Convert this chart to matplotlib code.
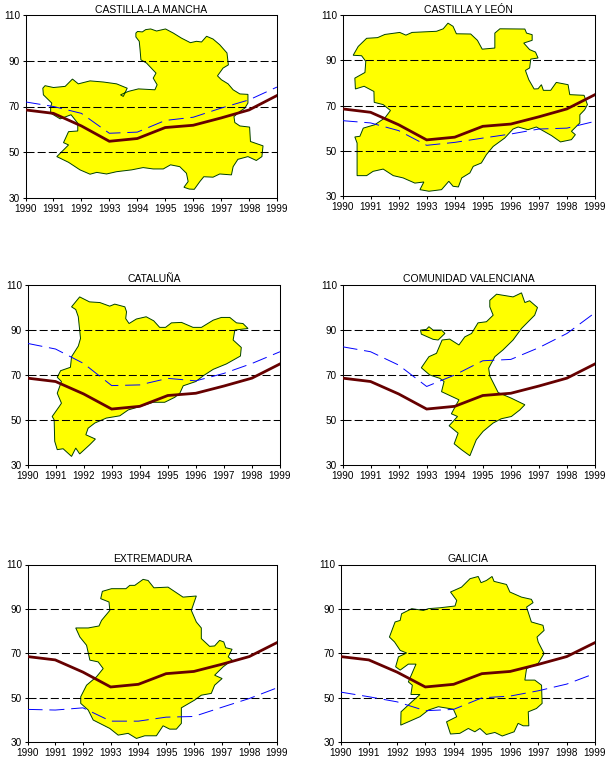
import matplotlib
matplotlib.use("Agg")
import matplotlib.pyplot as plt

plt.rcParams["font.family"] = ["Liberation Sans", "DejaVu Sans"]

years = [1990, 1991, 1992, 1993, 1994, 1995, 1996, 1997, 1998, 1999]
spain = [68.5, 67, 61.5, 54.8, 56, 60.8, 61.8, 65, 68.5, 74.8]

titles = ["CASTILLA-LA MANCHA", "CASTILLA Y LEÓN", "CATALUÑA",
          "COMUNIDAD VALENCIANA", "EXTREMADURA", "GALICIA"]

mancha = [72, 70, 67, 58.3, 58.8, 63.9, 65.3, 69.3, 72.9, 78.5]
leon = [63.3, 62.3, 58.9, 52.4, 53.7, 55.6, 57.4, 59.6, 60, 63]
cataluna = [83.9, 81.4, 75, 65.2, 65.5, 68.4, 67.3, 70.6, 75, 80.2]
valencia = [82.4, 80.2, 74.3, 64.8, 69.9, 76.2, 76.8, 82, 88.3, 97.5]
extremadura = [44.7, 44.4, 45.4, 39.4, 39.4, 41.2, 41.5, 45.6, 49.6, 54.4]
galicia = [52.5, 50.4, 48.1, 44.1, 44.7, 49.9, 50.7, 53.1, 56.1, 60.9]

map_mancha = [(1993.95,102.1),(1994.01,102.8),(1994.18,102.6),(1994.30,103.6),(1994.48,103.9),(1994.69,103),
    (1995.01,103.9),(1995.29,102.1),(1995.58,99.9),(1995.9,97.9),(1996.12,98.5),(1996.3,98.2),(1996.48,100.7),
    (1996.71,99.5),(1996.95,97),(1997.21,93.4),(1997.26,88.2),(1997.07,86.8),(1996.87,83.4),(1997.01,81.7),
    (1997.25,79.9),(1997.43,77.3),(1997.67,75.5),(1997.96,75.3),(1997.96,71.5),(1997.85,69.3),(1997.67,67.8),
    (1997.46,65.6),(1997.49,63),(1997.67,61.5),(1998.02,61),(1998.05,54.7),(1998.5,52.8),(1998.46,48.1),
    (1998.26,46.4),(1997.96,48.1),(1997.6,46.9),(1997.43,43.7),(1997.37,40.1),(1996.95,40.5),(1996.71,39.1),
    (1996.38,39.3),(1996.24,37.2),(1996.04,33.8),(1995.86,33.9),(1995.67,34.7),(1995.82,37.2),(1995.76,40.8),
    (1995.52,43.7),(1995.19,44.5),(1994.93,42.7),(1994.57,42.7),(1994.21,43.3),(1993.8,42.3),(1993.26,41.5),
    (1992.9,40.5),(1992.55,41.2),(1992.31,40.4),(1991.95,42.3),(1991.54,45.6),(1991.12,48.1),(1991.36,51),
    (1991.54,53.2),(1991.36,54.2),(1991.54,59),(1991.87,59.3),(1991.87,62.7),(1991.63,66.4),(1991.24,64.6),
    (1990.9,67.1),(1990.9,69.7),(1990.94,71.5),(1990.64,75.1),(1990.62,78),(1990.7,79.1),(1991,78.3),
    (1991.42,78.8),(1991.68,82),(1991.89,79.9),(1992.31,81.2),(1992.79,80.7),(1993.26,79.9),(1993.64,78),
    (1993.5,74.4),(1993.4,75.1),(1993.68,76.6),(1994.04,77.7),(1994.63,77.3),(1994.71,79.5),(1994.57,82.4),
    (1994.67,84.6),(1994.33,89),(1994.13,90.4),(1994.1,94.8),(1994.07,98.5),(1993.95,100.4)]

map_leon = [(1990.38,92.2),(1990.56,96.1),(1990.86,99.7),(1991.25,100),(1991.51,101.4),(1992.04,102.3),
    (1992.26,101.1),(1992.48,102.3),(1993.35,102.8),(1993.59,103.9),(1993.76,106.4),(1993.94,105),(1994.06,101.7),
    (1994.57,101.6),(1994.81,98.8),(1994.98,94.9),(1995.43,95.4),(1995.43,102),(1995.61,103.9),(1996.5,103.8),
    (1996.56,102),(1996.76,101.3),(1996.76,98.8),(1996.46,97.6),(1996.67,94.7),(1996.88,93.6),(1996.97,91),
    (1996.71,90.5),(1996.67,86.6),(1996.52,85.5),(1996.64,81.4),(1996.83,77.3),(1996.97,77.4),(1997.09,79.2),
    (1997.16,76.7),(1997.42,76.7),(1997.62,80.2),(1998.04,79.2),(1998.1,74.8),(1998.61,74.5),(1998.73,70.4),
    (1998.63,68.1),(1998.46,65.9),(1998.46,62.3),(1998.16,58.6),(1998.3,57.1),(1998.16,54.9),(1997.77,53.9),
    (1997.45,56.7),(1996.91,60.5),(1996.61,59.3),(1996.26,60.5),(1996.08,59.6),(1995.78,55.6),(1995.37,51.9),
    (1995.13,48.3),(1994.95,44.6),(1994.66,43.1),(1994.54,40.2),(1994.25,38),(1994.13,34),(1993.94,34.3),
    (1993.79,36.5),(1993.53,32.8),(1993.08,32.1),(1992.76,32.8),(1992.9,36.2),(1992.58,35.7),(1992.16,38),
    (1991.81,39),(1991.45,41.9),(1991.09,40.9),(1990.86,39),(1990.52,39),(1990.52,53.4),(1990.44,56.1),
    (1990.62,56.4),(1990.74,60),(1991.15,61.5),(1991.51,64.5),(1991.71,67.8),(1991.45,70.4),(1991.13,71.4),
    (1991.12,76.2),(1990.77,78.5),(1990.46,77.3),(1990.44,82.1),(1990.8,84.6),(1990.83,89.5),(1990.68,92)]

map_cataluna = [(1991.57,100.1),(1991.86,104.5),(1992.21,102.3),(1992.58,102),(1992.93,100.4),(1993.11,101.3),
    (1993.47,100.1),(1993.53,97.9),(1993.5,94.9),(1993.62,92.7),(1993.88,94.7),(1994.23,95.7),(1994.5,93.9),
    (1994.71,91),(1994.92,91),(1995.13,93),(1995.49,93.2),(1995.9,91),(1996.2,91),(1996.62,94.2),(1996.91,95.4),
    (1997.21,95.4),(1997.45,93),(1997.68,92.7),(1997.86,90.5),(1997.39,89.8),(1997.33,85.4),(1997.62,82.1),
    (1997.59,78.3),(1997.09,74.8),(1996.62,72.4),(1996.26,69.5),(1996.0,67),(1995.55,65.1),(1995.43,61.8),
    (1995.25,60),(1994.89,57.8),(1994.48,57.8),(1994,55.9),(1993.59,54.4),(1993.29,51.8),(1992.81,50.8),
    (1992.4,48.6),(1992.16,46.3),(1992.08,43.4),(1992.42,41.5),(1992.22,39),(1991.86,34.9),(1991.72,37.5),
    (1991.57,33.8),(1991.27,37.2),(1991.06,36.8),(1990.97,40.5),(1990.95,50),(1990.88,51.5),(1991.13,55.9),
    (1991.21,57.4),(1991.06,61.8),(1991.21,67),(1991.06,68.9),(1991.18,71.8),(1991.53,73.3),(1991.57,78),
    (1991.81,82.7),(1991.89,86.1),(1991.81,95.7),(1991.72,98.9)]

map_valencia = [(1995.25,103),(1995.49,105.7),(1996.08,104.5),(1996.38,106.3),(1996.5,102),(1996.67,102.8),
    (1996.95,99.8),(1996.85,96.4),(1996.38,90.5),(1996.08,85.4),(1995.72,81),(1995.43,78),(1995.21,72.9),
    (1995.25,69.5),(1995.55,62.1),(1996.02,59.6),(1996.5,56.7),(1996.32,54.4),(1996.02,51.5),(1995.66,50.5),
    (1995.37,48.6),(1995.01,44.9),(1994.77,41.2),(1994.54,34.1),(1994.24,36.8),(1993.98,39.4),(1994.12,44.1),
    (1993.8,47.4),(1994.1,51.5),(1993.88,52.7),(1994.15,58.9),(1993.53,62.5),(1993.62,67),(1993.47,68.4),
    (1993.11,69.9),(1992.81,73.1),(1993.08,78),(1993.35,79.5),(1993.55,85.4),(1993.82,85.8),(1994.15,83.2),
    (1994.36,86.8),(1994.6,88.3),(1994.83,93),(1995.13,93.5),(1995.37,96.4),(1995.25,100.1)]

map_valencia_b = [(1992.78,89.8),(1992.99,90.1),(1993.08,91.3),(1993.23,89.8),(1993.53,89.8),(1993.65,88.3),
    (1993.41,85.4),(1993.23,85.7),(1992.81,88)]

map_extremadura = [(1991.74,81.4),(1992.19,81.4),(1992.58,82.3),(1992.67,84.8),(1992.97,89.3),(1992.94,93.1),
    (1992.64,94.6),(1992.7,97.9),(1993.03,99.1),(1993.55,99.1),(1993.69,100.6),(1993.87,100.6),(1994.17,103.3),
    (1994.35,102.8),(1994.56,99.5),(1995.07,99.8),(1995.61,95.3),(1996.09,95.8),(1995.91,89.3),(1996.09,84.1),
    (1996.27,81.4),(1996.27,76.6),(1996.57,73.1),(1996.75,73.3),(1996.93,75.8),(1997.08,75.1),(1997.15,72.5),
    (1997.38,71.8),(1997.24,68.4),(1997.38,66.9),(1997.06,63.9),(1996.75,60.1),(1997.02,58.6),(1996.75,55.6),
    (1996.63,51.9),(1996.27,51.1),(1996.03,48.9),(1995.55,45.4),(1995.55,38.4),(1995.37,35.8),(1995.13,35.8),
    (1994.89,37.3),(1994.65,32.8),(1994.23,32.8),(1993.93,31.6),(1993.63,33.9),(1993.27,33.1),(1992.97,36.1),
    (1992.37,39.9),(1992.19,44.4),(1991.92,47.4),(1991.92,50.4),(1992.13,55.6),(1992.49,59.4),(1992.73,63.1),
    (1992.55,66.1),(1992.25,66.9),(1992.13,73.6),(1991.89,77.3)]

map_galicia = [(1991.73,77.3),(1991.93,84.1),(1992.11,84.8),(1992.16,87.8),(1992.52,90.1),(1992.93,89.3),
    (1993.11,90.1),(1993.52,90.5),(1994.05,91.3),(1994.11,93.8),(1993.89,97.6),(1994.28,99.8),(1994.58,103.6),
    (1994.87,104.6),(1994.97,101.8),(1995.16,102.8),(1995.36,104.6),(1995.43,102.4),(1995.87,101),(1995.99,97.6),
    (1996.4,95.3),(1996.75,94.3),(1996.81,92.8),(1996.58,90.8),(1996.75,84.1),(1997.16,82.6),(1997.2,80.3),
    (1996.95,77.3),(1996.99,75.1),(1997.2,69.9),(1996.99,65.4),(1996.58,63.1),(1996.52,57.9),(1996.87,57.9),
    (1997.11,55.6),(1997.13,47.4),(1996.93,45.1),(1996.64,43.6),(1996.66,37.3),(1996.46,37.3),(1996.28,38.4),
    (1996.14,34.6),(1995.72,32.7),(1995.46,34.3),(1995.16,33.4),(1994.93,36.1),(1994.75,34.6),(1994.52,36.1),
    (1994.22,33.9),(1993.89,33.6),(1993.75,39.1),(1994.11,41.4),(1993.99,44.8),(1993.46,45.9),(1993.11,44.4),
    (1992.81,41.4),(1992.4,39.1),(1992.13,37.6),(1992.14,43.6),(1992.52,48.1),(1992.81,51.4),(1992.49,51.4),
    (1992.54,55.6),(1992.4,57.1),(1992.67,65.1),(1992.4,65.1),(1992.11,62.4),(1991.95,63.9),(1992.05,68.4),
    (1992.34,70.1),(1992.11,71.3),(1991.91,75.1)]

regions = [mancha, leon, cataluna, valencia, extremadura, galicia]
outlines = [[map_mancha], [map_leon], [map_cataluna], [map_valencia, map_valencia_b],
            [map_extremadura], [map_galicia]]

W, H = 607, 762
# left, right, top, bottom of each panel in pixels
boxes = [(25.5, 277, 15, 198), (342.5, 595, 15, 196),
         (27.5, 280, 284.5, 465), (342.5, 595, 284.5, 465),
         (27.5, 277, 564.5, 742), (340.5, 595, 564.5, 742)]

fig = plt.figure(figsize=(W / 100, H / 100), dpi=100)

for i in range(6):
    l, r, t, b = boxes[i]
    ax = fig.add_axes([l / W, 1 - b / H, (r - l) / W, (b - t) / H])
    for part in outlines[i]:
        ax.fill([p[0] for p in part], [p[1] for p in part], facecolor="#FFFF00",
                edgecolor="#004000", linewidth=0.7, zorder=1)
    for v in [50, 70, 90]:
        ax.axhline(v, color="black", linewidth=0.75, dashes=(7.7, 3), zorder=2)
    ax.plot(years, regions[i], color="#0000FF", linewidth=0.7, dashes=(15.5, 7), zorder=3)
    ax.plot(years, spain, color="#660000", linewidth=2.0, zorder=4, solid_joinstyle="miter")
    ax.set_xlim(1990, 1999)
    ax.set_ylim(30, 110)
    ax.set_xticks(years)
    ax.set_yticks([30, 50, 70, 90, 110])
    ax.tick_params(labelsize=7.2, length=2.5, width=0.75, pad=1.5)
    for s in ax.spines.values():
        s.set_linewidth(0.75)
    ax.set_title(titles[i], fontsize=7.5, pad=1.5)

fig.savefig("out.png", dpi=100)
